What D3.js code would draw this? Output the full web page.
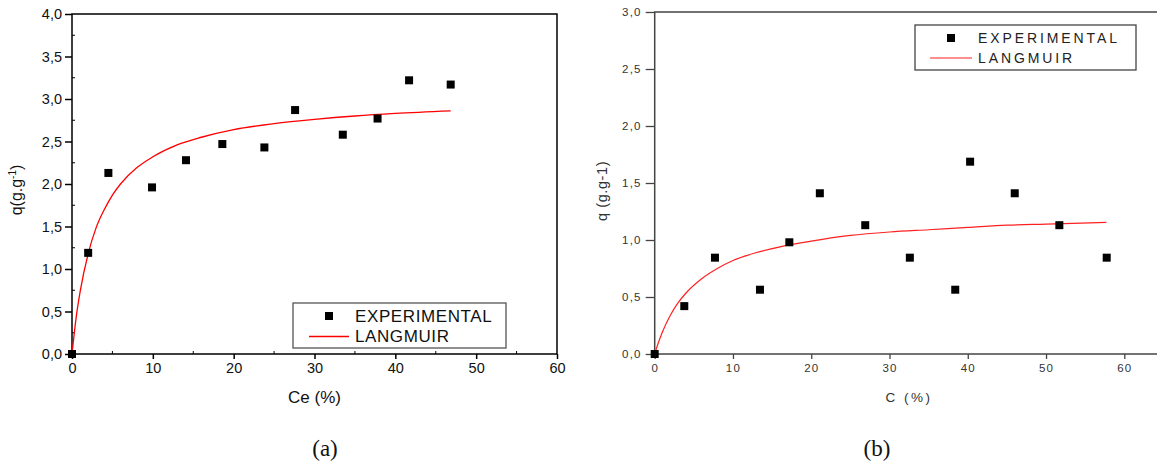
<!DOCTYPE html>
<html><head><meta charset="utf-8">
<script src="https://cdn.jsdelivr.net/npm/d3@7"></script>
<style>body{margin:0;background:#fff}svg{display:block}</style>
</head><body>
<svg id="c" width="1157" height="464"></svg>
<script>
// Panel (a) data
const expA_C = [0, 2.0, 4.5, 9.9, 14.1, 18.6, 23.8, 27.6, 33.5, 37.8, 41.7, 46.85];
const expA_q = [0, 1.19, 2.13, 1.96, 2.28, 2.47, 2.43, 2.87, 2.58, 2.77, 3.22, 3.17];
const lanA_C = [0, 0.5, 1, 2, 3, 4, 5, 6, 8, 10, 13, 16, 20, 25, 30, 35, 40, 46.85];
const lanA_q = [0, 0.42, 0.73, 1.18, 1.49, 1.70, 1.87, 2.00, 2.19, 2.32, 2.46, 2.55, 2.64, 2.71, 2.76, 2.80, 2.83, 2.86];
const xTicksA = [0, 10, 20, 30, 40, 50, 60];
const yTicksA = [0, 0.5, 1, 1.5, 2, 2.5, 3, 3.5, 4];
// Panel (b) data
const expB_C = [0, 3.78, 7.7, 13.45, 17.2, 21.1, 26.9, 32.6, 38.4, 40.3, 46.0, 51.7, 57.75];
const expB_q = [0, 0.42, 0.845, 0.564, 0.98, 1.41, 1.13, 0.845, 0.564, 1.687, 1.41, 1.13, 0.845];
const lanB_C = [0, 0.5, 1, 2, 3, 4, 6, 8, 10, 13, 16, 20, 25, 30, 35, 40, 45, 50, 57.7];
const lanB_q = [0, 0.105, 0.196, 0.34, 0.45, 0.535, 0.66, 0.75, 0.82, 0.89, 0.94, 0.99, 1.04, 1.07, 1.09, 1.11, 1.13, 1.14, 1.155];
const xTicksB = [0, 10, 20, 30, 40, 50, 60];
const yTicksB = [0, 0.5, 1, 1.5, 2, 2.5, 3];
const legendLabels = ["EXPERIMENTAL", "LANGMUIR"];

const fmt = d => d3.format(".1f")(d).replace(".", ",");
const svg = d3.select("#c");

// ---------- Panel (a) ----------
{
  const x = d3.scaleLinear().domain([0, 60]).range([72, 557]);
  const y = d3.scaleLinear().domain([0, 4]).range([354, 14]);
  const g = svg.append("g").attr("font-family", "Liberation Sans, Arial, sans-serif");
  g.append("rect").attr("x", 72).attr("y", 14).attr("width", 485).attr("height", 340)
    .attr("fill", "none").attr("stroke", "#000").attr("stroke-width", 1.5);
  const ax = g.append("g").attr("transform", "translate(0,354)")
    .call(d3.axisBottom(x).tickValues(xTicksA).tickFormat(d3.format("d")).tickSize(5).tickPadding(4));
  ax.select(".domain").remove();
  ax.selectAll("line").attr("stroke-width", 1.5);
  ax.selectAll("text").attr("font-size", 14.5).attr("fill", "#111");
  const ay = g.append("g").attr("transform", "translate(72,0)")
    .call(d3.axisLeft(y).tickValues(yTicksA).tickFormat(fmt).tickSize(7).tickPadding(3));
  ay.select(".domain").remove();
  ay.selectAll("line").attr("stroke-width", 1.5);
  ay.selectAll("text").attr("font-size", 14.5).attr("fill", "#111");
  g.append("g").selectAll("line").data(d3.range(5, 60, 10)).join("line")
    .attr("x1", d => x(d)).attr("x2", d => x(d)).attr("y1", 354).attr("y2", 351)
    .attr("stroke", "#000").attr("stroke-width", 1);
  g.append("g").selectAll("line").data(d3.range(0.25, 4, 0.5)).join("line")
    .attr("x1", 72).attr("x2", 75).attr("y1", d => y(d)).attr("y2", d => y(d))
    .attr("stroke", "#000").attr("stroke-width", 1);
  g.append("path").datum(lanA_C.map((c, i) => [c, lanA_q[i]]))
    .attr("d", d3.line().x(d => x(d[0])).y(d => y(d[1])).curve(d3.curveMonotoneX))
    .attr("fill", "none").attr("stroke", "#ff0000").attr("stroke-width", 1.3);
  g.append("g").selectAll("rect").data(expA_C.map((c, i) => [c, expA_q[i]])).join("rect")
    .attr("x", d => x(d[0]) - 4).attr("y", d => y(d[1]) - 4).attr("width", 8).attr("height", 8)
    .attr("fill", "#000");
  g.append("text").attr("x", 314.5).attr("y", 403).attr("text-anchor", "middle")
    .attr("font-size", 17).attr("fill", "#111").text("Ce (%)");
  const yt = g.append("text").attr("transform", "translate(22,190) rotate(-90)")
    .attr("text-anchor", "middle").attr("font-size", 16).attr("fill", "#111");
  yt.append("tspan").text("q(g.g");
  yt.append("tspan").attr("dy", -6).attr("font-size", 10).text("-1");
  yt.append("tspan").attr("dy", 6).text(")");
  g.append("rect").attr("x", 293).attr("y", 303).attr("width", 213).attr("height", 45)
    .attr("fill", "#fff").attr("stroke", "#555").attr("stroke-width", 1.3);
  g.append("rect").attr("x", 325).attr("y", 312).attr("width", 8).attr("height", 8).attr("fill", "#000");
  g.append("line").attr("x1", 309).attr("x2", 349).attr("y1", 336.5).attr("y2", 336.5)
    .attr("stroke", "#ff0000").attr("stroke-width", 1.3);
  g.append("text").attr("x", 355).attr("y", 322).attr("font-size", 17).attr("letter-spacing", 0.6).attr("fill", "#111").text(legendLabels[0]);
  g.append("text").attr("x", 355).attr("y", 342).attr("font-size", 17).attr("letter-spacing", 0.6).attr("fill", "#111").text(legendLabels[1]);
  svg.append("text").attr("x", 325).attr("y", 456).attr("text-anchor", "middle")
    .attr("font-family", "Liberation Serif, Times New Roman, serif").attr("font-size", 23).attr("fill", "#111").text("(a)");
}

// ---------- Panel (b) ----------
{
  const x = d3.scaleLinear().domain([0, 60]).range([654.7, 1124.3]);
  const y = d3.scaleLinear().domain([0, 3]).range([354, 12]);
  const g = svg.append("g").attr("font-family", "Liberation Sans, Arial, sans-serif");
  const col = "#444";
  g.append("rect").attr("x", 654.7).attr("y", 12).attr("width", 520).attr("height", 342)
    .attr("fill", "none").attr("stroke", col).attr("stroke-width", 1.5);
  const ax = g.append("g").attr("transform", "translate(0,354)")
    .call(d3.axisBottom(x).tickValues(xTicksB).tickFormat(d3.format("d")).tickSize(5).tickPadding(5));
  ax.select(".domain").remove();
  ax.selectAll("line").attr("stroke", col).attr("stroke-width", 1.3);
  ax.selectAll("text").attr("font-size", 11.5).attr("fill", "#333").attr("letter-spacing", 1.2);
  const ay = g.append("g").attr("transform", "translate(654.7,0)")
    .call(d3.axisLeft(y).tickValues(yTicksB).tickFormat(fmt).tickSize(9).tickPadding(4));
  ay.select(".domain").remove();
  ay.selectAll("line").attr("stroke", col).attr("stroke-width", 1.3);
  ay.selectAll("text").attr("font-size", 11.5).attr("fill", "#333").attr("letter-spacing", 1.2);
  g.append("path").datum(lanB_C.map((c, i) => [c, lanB_q[i]]))
    .attr("d", d3.line().x(d => x(d[0])).y(d => y(d[1])).curve(d3.curveMonotoneX))
    .attr("fill", "none").attr("stroke", "#ff2020").attr("stroke-width", 1.2);
  g.append("g").selectAll("rect").data(expB_C.map((c, i) => [c, expB_q[i]])).join("rect")
    .attr("x", d => x(d[0]) - 4).attr("y", d => y(d[1]) - 4).attr("width", 8).attr("height", 8)
    .attr("fill", "#000");
  g.append("text").attr("x", 909).attr("y", 402).attr("text-anchor", "middle")
    .attr("font-size", 13.5).attr("fill", "#333").attr("letter-spacing", 2.5).text("C (%)");
  g.append("text").attr("transform", "translate(607,191) rotate(-90)")
    .attr("text-anchor", "middle").attr("font-size", 14.5).attr("fill", "#333").attr("letter-spacing", 0.6)
    .text("q (g.g-1)");
  g.append("rect").attr("x", 915).attr("y", 25).attr("width", 221).attr("height", 45)
    .attr("fill", "#fff").attr("stroke", col).attr("stroke-width", 1.3);
  g.append("rect").attr("x", 947).attr("y", 34).attr("width", 8).attr("height", 8).attr("fill", "#000");
  g.append("line").attr("x1", 930).attr("x2", 972).attr("y1", 58).attr("y2", 58)
    .attr("stroke", "#ff2020").attr("stroke-width", 1.2);
  g.append("text").attr("x", 978).attr("y", 43).attr("font-size", 14).attr("fill", "#222").attr("letter-spacing", 2.9).text(legendLabels[0]);
  g.append("text").attr("x", 978).attr("y", 63).attr("font-size", 14).attr("fill", "#222").attr("letter-spacing", 2.9).text(legendLabels[1]);
  svg.append("text").attr("x", 877).attr("y", 456).attr("text-anchor", "middle")
    .attr("font-family", "Liberation Serif, Times New Roman, serif").attr("font-size", 23).attr("fill", "#111").text("(b)");
}
</script>
</body></html>
